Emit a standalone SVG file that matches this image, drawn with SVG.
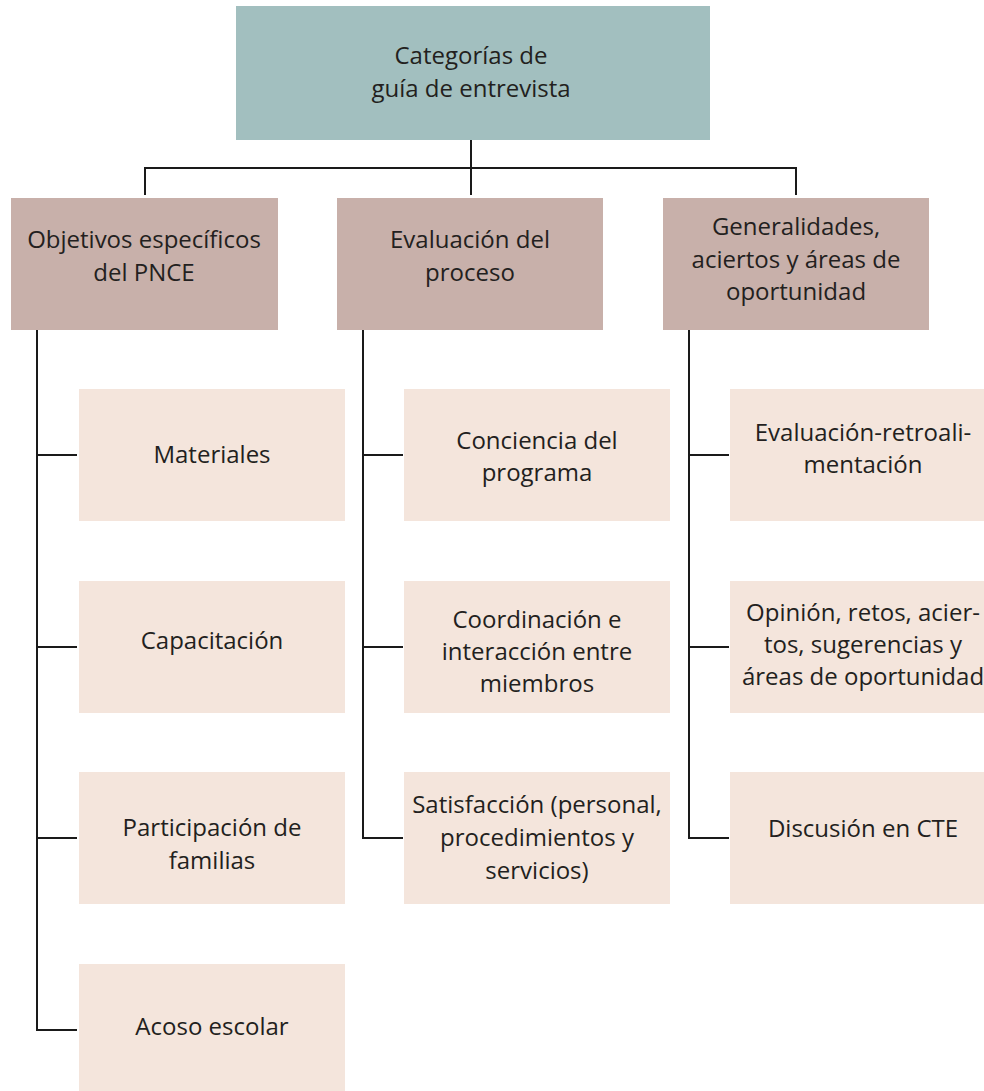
<svg xmlns="http://www.w3.org/2000/svg" width="984" height="1091" viewBox="0 0 984 1091">
<style>
.top{fill:#a2bfbf}
.br{fill:#c8b0aa}
.lf{fill:#f4e5dc}
text{font-family:"Open Sans","Noto Sans",sans-serif;font-size:24px;fill:#231f20;text-anchor:middle}
.c{fill:none;stroke:#1a1a1a;stroke-width:2}
</style>
<rect width="984" height="1091" fill="#ffffff"/>
<g id="connectors">
<path class="c" d="M471 140V195M145 195V168H796V195"/>
<path class="c" d="M37 330V1030H77M37 455H77M37 647H77M37 838H77"/>
<path class="c" d="M363 330V838H403M363 455H403M363 647H403"/>
<path class="c" d="M689 330V838H729M689 455H729M689 647H729"/>
</g>
<g id="root"><rect class="top" x="236" y="6" width="474" height="134"/>
<text x="471" y="64">Categorías de</text><text x="471" y="97">guía de entrevista</text></g>
<g id="b1"><rect class="br" x="11" y="198" width="267" height="132"/>
<text x="144" y="248">Objetivos específicos</text><text x="144" y="281">del PNCE</text></g>
<g id="b2"><rect class="br" x="337" y="198" width="266" height="132"/>
<text x="470" y="248">Evaluación del</text><text x="470" y="281">proceso</text></g>
<g id="b3"><rect class="br" x="663" y="198" width="266" height="132"/>
<text x="796" y="235">Generalidades,</text><text x="796" y="268">aciertos y áreas de</text><text x="796" y="300">oportunidad</text></g>
<g id="l1a"><rect class="lf" x="79" y="389" width="266" height="132"/><text x="212" y="463">Materiales</text></g>
<g id="l1b"><rect class="lf" x="79" y="581" width="266" height="132"/><text x="212" y="649">Capacitación</text></g>
<g id="l1c"><rect class="lf" x="79" y="772" width="266" height="132"/><text x="212" y="836">Participación de</text><text x="212" y="869">familias</text></g>
<g id="l1d"><rect class="lf" x="79" y="964" width="266" height="132"/><text x="212" y="1035">Acoso escolar</text></g>
<g id="l2a"><rect class="lf" x="404" y="389" width="266" height="132"/><text x="537" y="449">Conciencia del</text><text x="537" y="481">programa</text></g>
<g id="l2b"><rect class="lf" x="404" y="581" width="266" height="132"/><text x="537" y="628">Coordinación e</text><text x="537" y="660">interacción entre</text><text x="537" y="692">miembros</text></g>
<g id="l2c"><rect class="lf" x="404" y="772" width="266" height="132"/><text x="537" y="813">Satisfacción (personal,</text><text x="537" y="846">procedimientos y</text><text x="537" y="879">servicios)</text></g>
<g id="l3a"><rect class="lf" x="730" y="389" width="266" height="132"/><text x="863" y="441">Evaluación-retroali-</text><text x="863" y="473">mentación</text></g>
<g id="l3b"><rect class="lf" x="730" y="581" width="266" height="132"/><text x="863" y="621">Opinión, retos, acier-</text><text x="863" y="653">tos, sugerencias y</text><text x="863" y="685">áreas de oportunidad</text></g>
<g id="l3c"><rect class="lf" x="730" y="772" width="266" height="132"/><text x="863" y="837">Discusión en CTE</text></g>
</svg>
